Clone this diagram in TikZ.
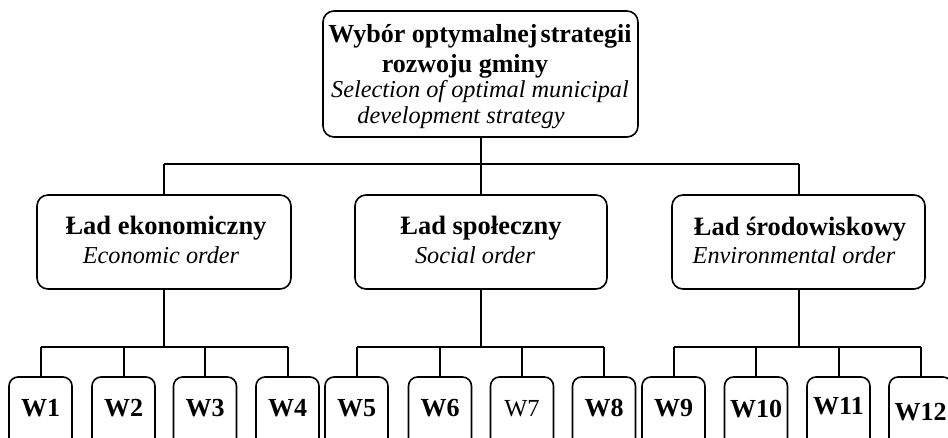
\documentclass[tikz,border=0pt]{standalone}
\usepackage{fontspec}
\setmainfont{Liberation Serif}
\begin{document}
\begin{tikzpicture}[x=1pt,y=-1pt,
  boxstyle/.style={draw=black, line width=1.6pt, rounded corners=11pt, inner sep=0pt, minimum width=#1},
  linkstyle/.style={draw=black, line width=2pt},
  bt/.style={anchor=base, inner sep=0pt, font=\fontsize{26.5}{30}\selectfont\bfseries},
  it/.style={anchor=base, inner sep=0pt, font=\fontsize{24.3}{28}\selectfont\itshape},
  wt/.style={anchor=base, inner sep=0pt, font=\fontsize{26}{30}\selectfont\bfseries},
]
\useasboundingbox (0,0) rectangle (948,437);
% top box
\node[boxstyle=315pt, minimum height=126pt] (top) at (480.5,74) {};
\node[bt, font=\fontsize{26}{30}\selectfont\bfseries] (t1) at (480,42) {Wybór optymalnej\hspace{0.12em}strategii};
\node[bt, font=\fontsize{26}{30}\selectfont\bfseries] (t2) at (465,72) {rozwoju gminy};
\node[it] (t3) at (480,97) {Selection of optimal municipal};
\node[it] (t4) at (461,123) {development strategy};
% middle boxes
\node[boxstyle=254pt, minimum height=94pt] (eco) at (164,242) {};
\node[boxstyle=252pt, minimum height=94pt] (soc) at (481,242) {};
\node[boxstyle=253pt, minimum height=94pt] (env) at (798.5,242) {};
\node[bt] (e1) at (166,234) {Ład ekonomiczny};
\node[it] (e2) at (161,263) {Economic order};
\node[bt] (s1) at (481,234) {Ład społeczny};
\node[it] (s2) at (475,263) {Social order};
\node[bt] (n1) at (800,235) {Ład środowiskowy};
\node[it] (n2) at (794,263) {Environmental order};
% top connectors
\coordinate (busL) at (164,164);
\coordinate (busR) at (798.5,164);
\draw[linkstyle] (busL) -- (busR);
\draw[linkstyle] (top.south) -- (top.south |- busL);
\draw[linkstyle] (busL) -- (eco.north);
\draw[linkstyle] (soc.north |- busL) -- (soc.north);
\draw[linkstyle] (busR) -- (env.north);
% bottom boxes
\foreach \n/\cx in {1/40.5,2/123.5,3/205,4/287.5,5/356.5,6/440,7/522,8/604,9/673.5,10/756,11/838.5,12/920.5}{
  \node[boxstyle=63pt, minimum height=84pt, rounded corners=9pt] (b\n) at (\cx,419) {};
}
\node[wt] (w1) at (b1 |- 0,416) {W1};
\node[wt] (w2) at (b2 |- 0,416) {W2};
\node[wt] (w3) at (b3 |- 0,416) {W3};
\node[wt] (w4) at (b4 |- 0,416) {W4};
\node[wt] (w5) at (b5 |- 0,416) {W5};
\node[wt] (w6) at (b6 |- 0,416) {W6};
\node[wt, font=\fontsize{24.5}{28}\selectfont] (w7) at (b7 |- 0,416) {W7};
\node[wt] (w8) at (b8 |- 0,416) {W8};
\node[wt] (w9) at (b9 |- 0,416) {W9};
\node[wt] (w10) at (b10 |- 0,417) {W10};
\node[wt] (w11) at (b11 |- 0,414) {W11};
\node[wt] (w12) at (b12 |- 0,420) {W12};
% bottom connectors
\coordinate (g1) at (164,347);
\coordinate (g2) at (481,347);
\coordinate (g3) at (798.5,347);
\draw[linkstyle] (eco.south) -- (g1);
\draw[linkstyle] (soc.south) -- (g2);
\draw[linkstyle] (env.south) -- (g3);
\draw[linkstyle] (b1.north |- g1) -- (b4.north |- g1);
\draw[linkstyle] (b5.north |- g2) -- (b8.north |- g2);
\draw[linkstyle] (b9.north |- g3) -- (b12.north |- g3);
\foreach \i/\g in {1/g1,2/g1,3/g1,4/g1,5/g2,6/g2,7/g2,8/g2,9/g3,10/g3,11/g3,12/g3}{
  \draw[linkstyle] (b\i.north |- \g) -- (b\i.north);
}
\end{tikzpicture}
\end{document}
